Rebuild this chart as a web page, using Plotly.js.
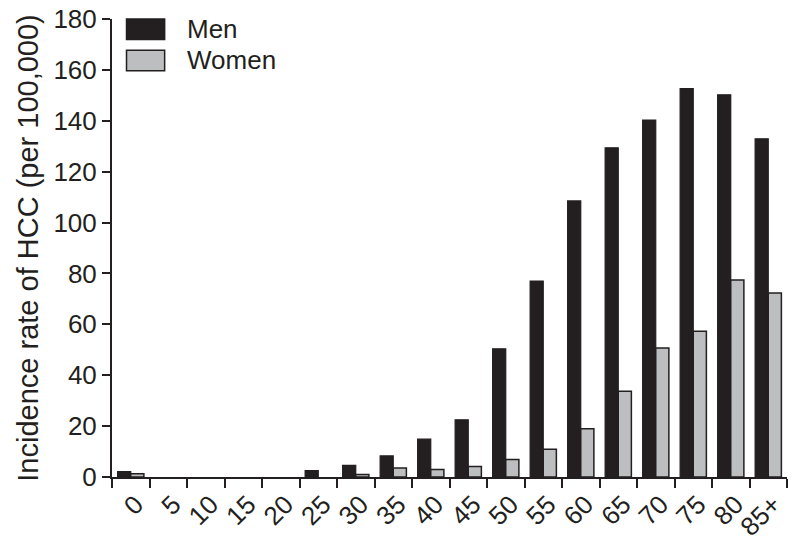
<!DOCTYPE html>
<html>
<head>
<meta charset="utf-8">
<script src="https://cdn.plot.ly/plotly-3.0.1.min.js"></script>
<style>
  html, body { margin:0; padding:0; background:#fff; }
  #chart { width:798px; height:544px; }
</style>
</head>
<body>
<div id="chart"></div>
<script>
  'use strict';

  // age groups (years)
  const ageGroups = ['0','5','10','15','20','25','30','35','40','45','50','55','60','65','70','75','80','85+'];
  const menRates   = [2.1, 0, 0, 0, 0, 2.5, 4.6, 8.3, 14.9, 22.5, 50.4, 77, 108.5, 129.4, 140.3, 152.6, 150.2, 132.9];
  const womenRates = [1.3, 0, 0, 0, 0, 0, 1.0, 3.5, 2.9, 4.1, 6.9, 10.9, 19, 33.7, 50.7, 57.3, 77.4, 72.3];
  const seriesNames = ['Men', 'Women'];
  const yTicks = [0, 20, 40, 60, 80, 100, 120, 140, 160, 180];

  const ink = '#231f20';
  const grey = '#bcbec0';
  const font = '"Liberation Sans", Arial, Helvetica, sans-serif';

  // no outline on empty bars, otherwise they show as little dashes
  const outline = (vals, w) => vals.map(v => v > 0 ? w : 0);

  const traces = [
    { type:'bar', name:seriesNames[0], x:ageGroups, y:menRates,
      marker:{ color:ink, line:{ color:ink, width:outline(menRates, 1.2) } }, showlegend:false },
    { type:'bar', name:seriesNames[1], x:ageGroups, y:womenRates,
      marker:{ color:grey, line:{ color:ink, width:outline(womenRates, 1.5) } }, showlegend:false }
  ];

  // hand-drawn legend with big swatches, like the original figure
  const fills = [ink, grey];
  const shapes = [];
  const annotations = [];
  seriesNames.forEach((n, i) => {
    const top = 1.0 - i * 0.068;
    shapes.push({ type:'rect', xref:'paper', yref:'paper',
      x0:0.0215, x1:0.078, y0:top - 0.045, y1:top,
      fillcolor:fills[i], line:{ color:ink, width:1.5 } });
    annotations.push({ xref:'paper', yref:'paper', x:0.108, y:top - 0.0225,
      xanchor:'left', yanchor:'middle', showarrow:false, text:n,
      font:{ family:font, size:26, color:ink } });
  });

  const layout = {
    width:798, height:544,
    margin:{ l:112, r:11, t:19, b:67 },
    paper_bgcolor:'#fff', plot_bgcolor:'#fff',
    barmode:'group', bargap:0.3, bargroupgap:0,
    font:{ family:font, color:ink },
    showlegend:false,
    xaxis:{
      type:'category', tickson:'boundaries', automargin:false,
      showline:true, linecolor:ink, linewidth:2,
      ticks:'outside', ticklen:9, tickwidth:2, tickcolor:ink,
      tickangle:-45, ticklabelshift:5,
      tickfont:{ family:font, size:26, color:ink },
      showgrid:false, zeroline:false
    },
    yaxis:{
      range:[0,180], tickvals:yTicks,
      showline:true, linecolor:ink, linewidth:2,
      ticks:'outside', ticklen:8, tickwidth:2, tickcolor:ink,
      tickfont:{ family:font, size:26, color:ink },
      showgrid:false, zeroline:false,
      title:{ text:'Incidence rate of HCC (per 100,000)', standoff:6,
              font:{ family:font, size:29, color:ink } }
    },
    shapes:shapes,
    annotations:annotations
  };

  Plotly.newPlot('chart', traces, layout, { displayModeBar:false, staticPlot:true });
</script>
</body>
</html>
